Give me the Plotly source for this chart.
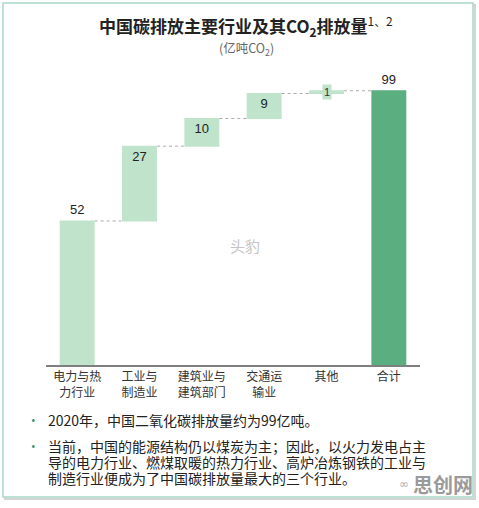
import plotly.graph_objects as go

categories = ["电力与热<br>力行业", "工业与<br>制造业", "建筑业与<br>建筑部门", "交通运<br>输业", "其他", "合计"]
values = [52, 27, 10, 9, 1, 99]
measures = ["relative", "relative", "relative", "relative", "relative", "total"]
labels = ["52", "27", "10", "9", "", "99"]
text_pos = ["outside", "inside", "inside", "inside", "none", "outside"]

W, H = 479, 508
ML, MR, MT, MB = 46, 59, 65, 143
PW, PH = W - ML - MR, H - MT - MB


def px(x):
    return (x - ML) / PW


def py(y):
    return (H - MB - y) / PH


LIGHT = "#bfe3cb"
DARK = "#5aae7f"

fig = go.Figure()
fig.add_trace(go.Waterfall(
    x=categories,
    y=values,
    measure=measures,
    text=labels,
    textposition=text_pos,
    textfont=dict(family="Liberation Sans, Arial", size=13, color="#222"),
    increasing=dict(marker=dict(color=LIGHT, line=dict(width=0))),
    totals=dict(marker=dict(color=DARK, line=dict(width=0))),
    connector=dict(line=dict(color="#aaaaaa", width=1, dash="dot")),
    cliponaxis=False,
    showlegend=False,
))

shapes = []
# card shadow and border
shapes.append(dict(type="rect", xref="paper", yref="paper",
                   x0=px(5), x1=px(475), y0=py(499), y1=py(5),
                   line=dict(color="#d4d4d4", width=2), fillcolor="rgba(0,0,0,0)", layer="below"))
shapes.append(dict(type="rect", xref="paper", yref="paper",
                   x0=px(3), x1=px(473), y0=py(497), y1=py(3),
                   line=dict(color="#a8d9c8", width=1.5), fillcolor="white", layer="below"))

annotations = []
# label for the tiny "1" step
annotations.append(dict(x=categories[4], y=sum(values[:4]) + values[4] / 2, xref="x", yref="y",
                        text="1", showarrow=False, bgcolor=LIGHT,
                        font=dict(family="Liberation Sans, Arial", size=11, color="#333"),
                        borderpad=1))
annotations.append(dict(xref="paper", yref="paper", x=px(246), y=py(26), xanchor="center", yanchor="middle",
                        text="<b>中国碳排放主要行业及其CO<sub>2</sub>排放量</b><sup>1、2</sup>",
                        showarrow=False,
                        font=dict(family="Noto Sans CJK SC", size=17, color="#222")))
annotations.append(dict(xref="paper", yref="paper", x=px(246), y=py(48), xanchor="center", yanchor="middle",
                        text="(亿吨CO<sub>2</sub>)",
                        showarrow=False, font=dict(family="Noto Sans CJK SC", size=12.5, color="#666")))
annotations.append(dict(xref="paper", yref="paper", x=px(245), y=py(245), xanchor="center", yanchor="middle",
                        text="头豹", showarrow=False,
                        font=dict(family="Noto Sans CJK SC", size=15, color="#c4c4c4")))

bullet_font = dict(family="Noto Sans CJK SC", size=14, color="#222")
for yy in (420, 446):
    annotations.append(dict(xref="paper", yref="paper", x=px(33), y=py(yy), xanchor="center", yanchor="middle",
                            text="•", showarrow=False, font=dict(size=12, color="#2f8f6f")))
lines = [(420, "2020年，中国二氧化碳排放量约为99亿吨。"),
         (446, "当前，中国的能源结构仍以煤炭为主；因此，以火力发电占主"),
         (462, "导的电力行业、燃煤取暖的热力行业、高炉冶炼钢铁的工业与"),
         (478, "制造行业便成为了中国碳排放量最大的三个行业。")]
for yy, t in lines:
    annotations.append(dict(xref="paper", yref="paper", x=px(46), y=py(yy), xanchor="left", yanchor="middle",
                            text=t, showarrow=False, font=bullet_font))
annotations.append(dict(xref="paper", yref="paper", x=px(443), y=py(484), xanchor="center", yanchor="middle",
                        text="<b>思创网</b>", showarrow=False,
                        font=dict(family="Noto Sans CJK SC", size=20, color="#9a9a9a")))
annotations.append(dict(xref="paper", yref="paper", x=px(404), y=py(484), xanchor="center", yanchor="middle",
                        text="∞", showarrow=False,
                        font=dict(family="DejaVu Sans", size=12, color="#b0b0b0")))

fig.update_layout(
    width=W, height=H,
    margin=dict(l=ML, r=MR, t=MT, b=MB),
    paper_bgcolor="white", plot_bgcolor="rgba(0,0,0,0)",
    waterfallgap=0.44,
    shapes=shapes,
    annotations=annotations,
    xaxis=dict(showgrid=False, showline=True, linecolor="#7f7f7f", linewidth=2,
               ticks="", tickfont=dict(family="Noto Sans CJK SC", size=12, color="#333"),
               fixedrange=True),
    yaxis=dict(range=[0, 108.3], visible=False, fixedrange=True),
)

fig.write_html("out.html", config={"displayModeBar": False},
               post_script="document.body.style.margin='0';document.body.style.overflow='hidden';")
